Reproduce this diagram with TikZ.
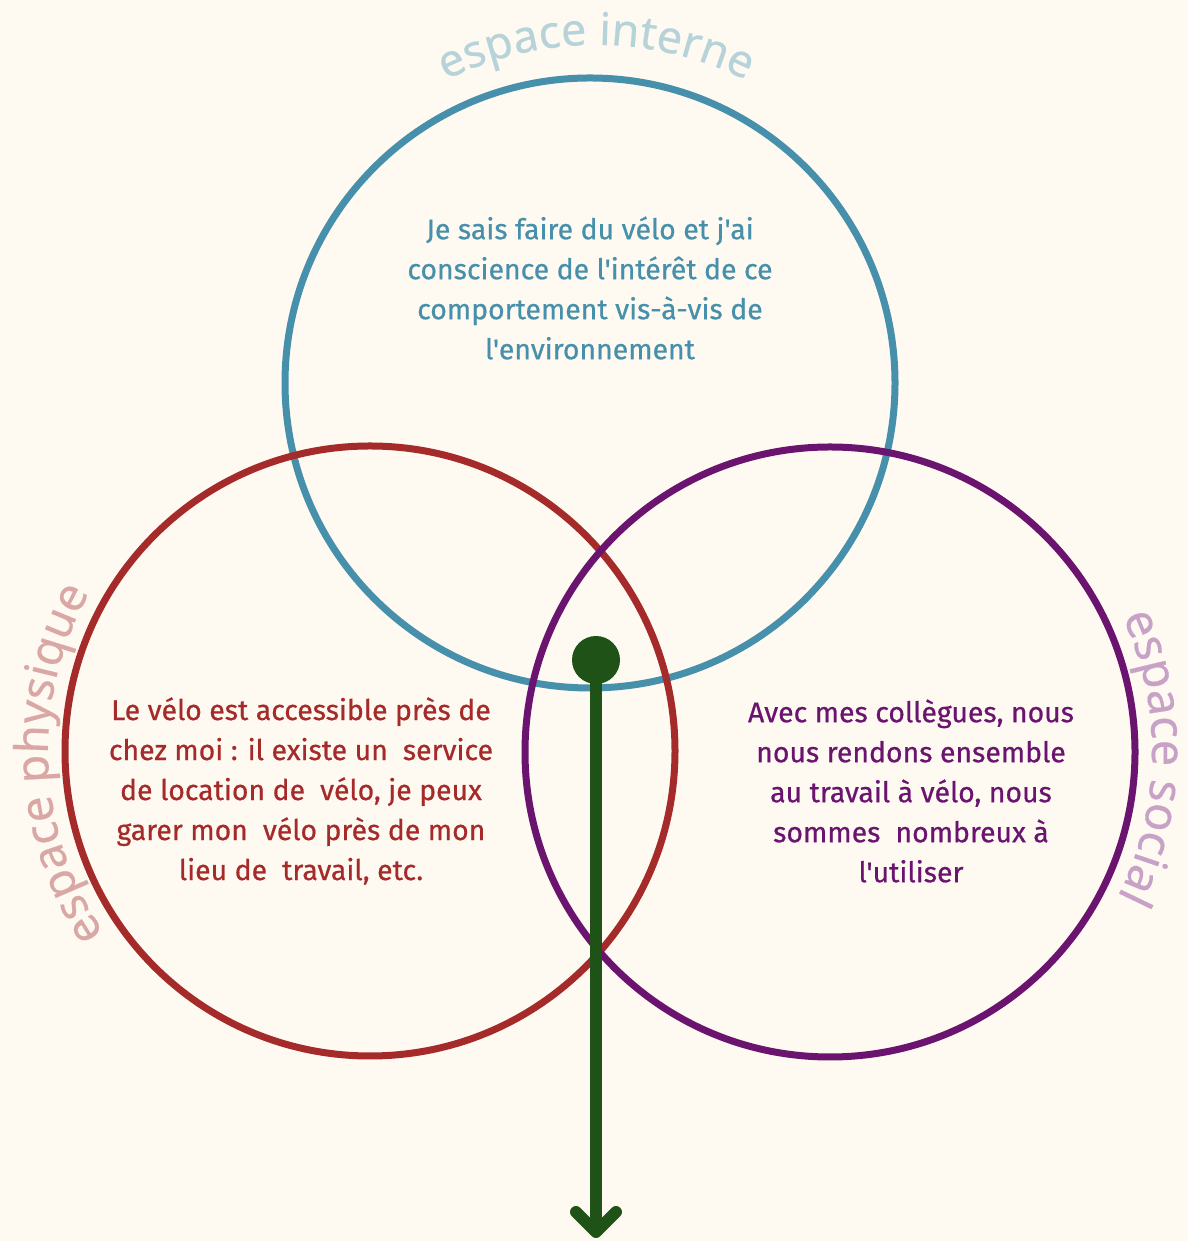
\documentclass[tikz,border=0pt]{standalone}
\usepackage{fontspec}
\setmainfont{Fira Sans}[Ligatures=TeXOff]
\newfontfamily\blurbfont{Fira Sans}[Ligatures=TeXOff, FakeBold=0.6]
\newfontfamily\labelfont{Noto Sans}[FakeBold=0.4]
\usetikzlibrary{decorations.text,arrows.meta}

\definecolor{bgcream}{HTML}{FEF9F1}
\definecolor{ringblue}{HTML}{4690AB}
\definecolor{ringred}{HTML}{A52A2A}
\definecolor{ringpurple}{HTML}{6A1470}
\definecolor{pathgreen}{HTML}{1F5216}
\definecolor{labelblue}{HTML}{B7D3DA}
\definecolor{labelred}{HTML}{D9A8A5}
\definecolor{labelpurple}{HTML}{C8A2C6}

\tikzset{
	ring/.style={line width=3.5pt},
	blurb/.style={align=center, font=\blurbfont\fontsize{14.2}{20}\selectfont},
}

\begin{document}
\begin{tikzpicture}[x=0.5pt,y=0.5pt]
	\fill[bgcream] (0,0) rectangle (1188,1241);
	\useasboundingbox (0,0) rectangle (1188,1241);
	
	% the three spaces
	\draw[ring, ringblue] (590,858) circle [radius=305];
	\draw[ring, ringred] (370,490) circle [radius=305];
	\draw[ring, ringpurple] (830,489) circle [radius=305];
	
	% names round the circles
	\path[decorate, decoration={text along path, text align=center, text color=labelblue,
		text={|\labelfont\fontsize{22.5}{26}\selectfont|espace interne}}]
		([shift={(160:338)}]596,858) arc [start angle=160, end angle=20, radius=338];
	\path[decorate, decoration={text along path, text align=center, text color=labelred,
		text={|\labelfont\fontsize{23}{26}\selectfont|espace physique}}]
		([shift={(227.5:322)}]370,490) arc [start angle=227.5, end angle=137.5, radius=322];
	\path[decorate, decoration={text along path, text align=center, text color=labelpurple,
		text={|\labelfont\fontsize{23.5}{26}\selectfont|espace social}}]
		([shift={(44:322)}]830,489) arc [start angle=44, end angle=-46, radius=322];
	
	% texts
	\node[blurb, ringblue] (interne) at (590,953) {Je sais faire du vélo et j'ai\\conscience de l'intérêt de ce\\comportement vis-à-vis de\\l'environnement};
	\node[blurb, ringred] (physique) at (301,450) {Le vélo est accessible près de\\chez moi : il existe un~ service\\de location de~ vélo, je peux\\garer mon~ vélo près de mon\\lieu de~ travail, etc.};
	\node[blurb, ringpurple] (social) at (911,450) {Avec mes collègues, nous\\nous rendons ensemble\\au travail à vélo, nous\\sommes~ nombreux à\\l'utiliser};
	
	% dot and arrow
	\node[circle, fill=pathgreen, inner sep=0pt, minimum size=24pt] (dot) at (596,581) {};
	\coordinate (tip) at (596,3);
	\draw[pathgreen, line width=6pt, -{Straight Barb[length=10pt,width=20pt,round]}] (dot.center) -- (tip);
\end{tikzpicture}
\end{document}
